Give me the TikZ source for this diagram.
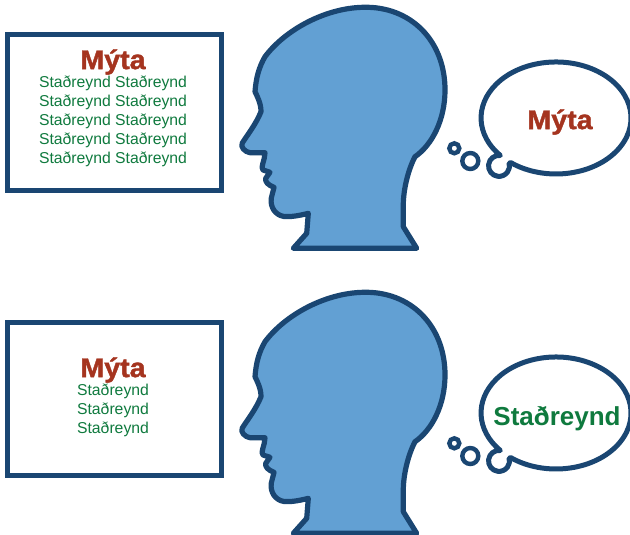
\documentclass[tikz,border=0pt]{standalone}
\usepackage{fontspec}
\setmainfont{Liberation Sans}
\newfontfamily\heavyfont[FakeBold=1.4,FakeStretch=1.06]{Liberation Sans Bold}
\definecolor{navy}{HTML}{1A4672}
\definecolor{headfill}{HTML}{62A0D3}
\definecolor{mythred}{HTML}{A5341F}
\definecolor{factgreen}{HTML}{0F7A3E}
\tikzset{
  panel/.style={draw=navy,line width=5bp,fill=white},
  headshape/.style={draw=navy,line width=5.2bp,fill=headfill,line join=round},
  bubble/.style={draw=navy,line width=5bp,fill=white,line join=round},
  dot/.style={draw=navy,line width=4.4bp,fill=white},
  mythtitle/.style={text=mythred,font=\fontsize{27bp}{30bp}\selectfont\heavyfont,inner sep=0pt},
  facttitle/.style={text=factgreen,font=\fontsize{26bp}{30bp}\selectfont\bfseries,inner sep=0pt},
  factlines/.style={text=factgreen,font=\fontsize{15.75bp}{19bp}\selectfont,align=center,inner sep=0pt},
  pics/head/.style={code={
    \path[headshape] (363.3,7.3)
      .. controls (410,6) and (445,40) .. (445,90)
      .. controls (445,120) and (432,145) .. (415,156.7)
      .. controls (408,170) and (403.3,190) .. (403.3,205)
      -- (403.3,226.7) -- (416.7,248.3) -- (293.3,248.3) -- (306.7,233.3) -- (308.3,213.3)
      .. controls (298,216) and (290,217) .. (284,216.5)
      .. controls (275,215) and (270,207) .. (271.3,198)
      -- (274,187.3)
      .. controls (268,185) and (265,182) .. (265.7,178.3)
      -- (270,172.3) -- (263,170)
      .. controls (260,168) and (265,160) .. (265,152.7)
      -- (250,152.7)
      .. controls (245,152) and (240,147) .. (242.3,143)
      .. controls (248,134) and (256,124) .. (261,111.7)
      .. controls (261,103) and (257,96) .. (255,91.7)
      .. controls (256,78) and (259,67) .. (265,56.7)
      .. controls (285,30) and (325,8) .. (363.3,7.3) -- cycle;
  }},
  pics/thought/.style={code={
    \path[bubble] (510.9,162.7)
      arc[start angle=127,end angle=-222,x radius=75,y radius=56]
      arc[start angle=-83,end angle=-375,radius=10.5] -- cycle;
    \path[dot] (454.3,148.3) circle[radius=5];
    \path[dot] (470.3,161) circle[radius=8];
  }}
}
\begin{document}
\begin{tikzpicture}[x=1bp,y=-1bp]
\useasboundingbox (0,0) rectangle (630,535);
% upper scene
\node[panel,minimum width=214bp,minimum height=155bp,inner sep=0pt] (boxA) at (114.5,112.5) {};
\node[mythtitle] (mythA) at (113,62) {Mýta};
\node[factlines] (factsA) at (113,121.5) {Staðreynd Staðreynd\\Staðreynd Staðreynd\\Staðreynd Staðreynd\\Staðreynd Staðreynd\\Staðreynd Staðreynd};
\pic {head};
\pic {thought};
\node[mythtitle] (thoughtA) at (560,122) {Mýta};
% lower scene
\node[panel,minimum width=214bp,minimum height=153bp,inner sep=0pt] (boxB) at (114.5,399) {};
\node[mythtitle] (mythB) at (113,370) {Mýta};
\node[factlines] (factsB) at (113,410.5) {Staðreynd\\Staðreynd\\Staðreynd};
\begin{scope}[yshift=-285bp]
\pic {head};
\end{scope}
\begin{scope}[yshift=-295bp]
\pic {thought};
\end{scope}
\node[facttitle] (thoughtB) at (557,419) {Staðreynd};
\end{tikzpicture}
\end{document}
